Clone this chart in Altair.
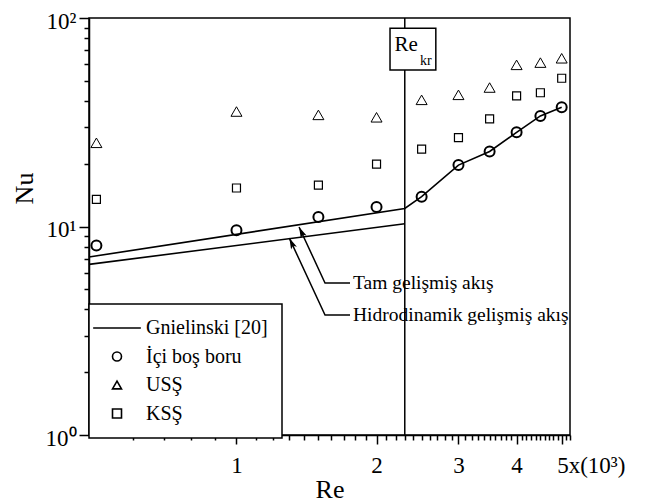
import altair as alt
import pandas as pd

FONT = "Liberation Serif"

# ---- data (Re in units of 10^3) ----
re_points = [0.5, 1.0, 1.5, 2.0, 2.5, 3.0, 3.5, 4.0, 4.5, 5.0]
nu_ici_bos = [8.1, 9.6, 11.1, 12.4, 13.9, 19.7, 22.9, 28.3, 33.9, 37.3]
nu_uss = [25.2, 35.6, 34.3, 33.4, 40.5, 42.8, 46.4, 59.6, 61.1, 64.1]
nu_kss = [13.5, 15.3, 15.8, 19.9, 23.5, 26.7, 32.8, 42.3, 43.8, 51.4]

series_names = ["Gnielinski [20]", "İçi boş boru", "USŞ", "KSŞ"]

# Gnielinski curves
gn_tam_re = [0.482, 2.3, 2.5, 3.0, 3.5, 4.0, 4.5, 5.0]
gn_tam_nu = [7.14, 12.2, 13.9, 19.7, 22.9, 28.3, 33.9, 37.3]
gn_hid_re = [0.482, 2.3]
gn_hid_nu = [6.58, 10.3]

re_kr = 2.3

# annotation anchors (data coordinates)
tam_leader_re = [1.363, 1.550, 1.754]
tam_leader_nu = [9.95, 5.36, 5.36]
hid_leader_re = [1.299, 1.550, 1.754]
hid_leader_nu = [8.80, 3.76, 3.76]
ann_text = ["Tam gelişmiş akış", "Hidrodinamik gelişmiş akış"]
ann_text_re = [1.78, 1.78]
ann_text_nu = [5.36, 3.76]

rekr_box_re = [2.138, 2.682]
rekr_box_nu = [56.3, 89.3]
rekr_main_pos = [2.185, 69.7]
rekr_sub_pos = [2.481, 59.5]

x_major = [1, 2, 3, 4, 5]
x_minor = [0.6, 0.7, 0.8, 0.9,
           1.1, 1.2, 1.3, 1.4, 1.5, 1.6, 1.7, 1.8, 1.9,
           2.1, 2.2, 2.3, 2.4, 2.5, 2.6, 2.7, 2.8, 2.9,
           3.1, 3.2, 3.3, 3.4, 3.5, 3.6, 3.7, 3.8, 3.9,
           4.1, 4.2, 4.3, 4.4, 4.5, 4.6, 4.7, 4.8, 4.9,
           5.1, 5.2]
y_major = [1, 10, 100]
y_minor = [2, 3, 4, 5, 6, 7, 8, 9, 20, 30, 40, 50, 60, 70, 80, 90]

# ---- tables ----
def series_df(values, name):
    return pd.DataFrame({"re": re_points, "nu": values, "series": [name] * len(values)})

pts_bos = series_df(nu_ici_bos, series_names[1])
pts_uss = series_df(nu_uss, series_names[2])
pts_kss = series_df(nu_kss, series_names[3])
pts_all = pd.concat([pts_bos, pts_uss, pts_kss], ignore_index=True)

gn = pd.DataFrame({
    "re": gn_tam_re + gn_hid_re,
    "nu": gn_tam_nu + gn_hid_nu,
    "curve": ["tam"] * len(gn_tam_re) + ["hid"] * len(gn_hid_re),
    "ord": list(range(len(gn_tam_re))) + list(range(len(gn_hid_re))),
})
leaders = pd.DataFrame({
    "re": tam_leader_re + hid_leader_re,
    "nu": tam_leader_nu + hid_leader_nu,
    "id": ["tam"] * 3 + ["hid"] * 3,
    "ord": [0, 1, 2, 0, 1, 2],
})
heads = pd.DataFrame({"re": [tam_leader_re[0], hid_leader_re[0]],
                      "nu": [tam_leader_nu[0], hid_leader_nu[0]]})
texts = pd.DataFrame({"re": ann_text_re, "nu": ann_text_nu, "t": ann_text})
box = pd.DataFrame({"re": [rekr_box_re[0]], "re2": [rekr_box_re[1]],
                    "nu": [rekr_box_nu[0]], "nu2": [rekr_box_nu[1]]})
kr_line = pd.DataFrame({"re": [re_kr]})
kr_main = pd.DataFrame({"re": [rekr_main_pos[0]], "nu": [rekr_main_pos[1]], "t": ["Re"]})
kr_sub = pd.DataFrame({"re": [rekr_sub_pos[0]], "nu": [rekr_sub_pos[1]], "t": ["kr"]})

xs = alt.Scale(type="log", domain=[0.482, 5.21], nice=False)
ys = alt.Scale(type="log", domain=[1, 100], nice=False)

x_axis_main = alt.Axis(
    orient="bottom", values=x_major, grid=False,
    labelExpr="datum.value == 5 ? '5x(10³)' : '' + datum.value",
    labelAlign={"condition": {"test": "datum.value == 5", "value": "left"}, "value": "center"},
    labelOffset={"condition": {"test": "datum.value == 5", "value": -5}, "value": 0},
    tickSize=9, tickWidth=1.5, tickColor="black",
    domainColor="black", domainWidth=1.5,
    labelFont=FONT, labelFontSize=23, labelColor="black", labelPadding=10,
    title="Re", titleFont=FONT, titleFontSize=26, titleFontWeight="normal",
    titleColor="black", titleY=62, titleBaseline="alphabetic",
)
x_axis_minor = alt.Axis(
    orient="bottom", values=x_minor, grid=False, labels=False, domain=False,
    tickSize=5, tickWidth=1.5, tickColor="black", title=None,
)
y_axis_main = alt.Axis(
    orient="left", values=y_major, grid=False,
    labelExpr="datum.value == 1 ? '10⁰' : (datum.value == 10 ? '10¹' : '10²')",
    tickSize=10, tickWidth=1.5, tickColor="black",
    domainColor="black", domainWidth=1.5,
    labelFont=FONT, labelFontSize=23, labelColor="black", labelPadding=3, labelOffset=3,
    title="Nu", titleFont=FONT, titleFontSize=26, titleFontWeight="normal",
    titleColor="black", titleX=-65, titleY=170, titleAngle=270,
    titleAlign="center", titleBaseline="middle",
)
y_axis_minor = alt.Axis(
    orient="left", values=y_minor, grid=False, labels=False, domain=False,
    tickSize=5, tickWidth=1.5, tickColor="black", title=None,
)

def X(field="re:Q", axis=None):
    return alt.X(field, scale=xs, axis=axis)

def Y(field="nu:Q", axis=None):
    return alt.Y(field, scale=ys, axis=axis)

shape_enc = alt.Shape(
    "series:N",
    scale=alt.Scale(domain=series_names,
                    range=["M-5.3,0H5.3", "circle", "triangle-up", "square"]),
    legend=alt.Legend(orient="none", legendX=0, legendY=286, title=None,
                      direction="vertical", padding=14, rowPadding=8.5,
                      symbolOffset=4, labelOffset=19, labelFont=FONT,
                      labelFontSize=20, labelColor="black", symbolSize=81,
                      symbolStrokeWidth=1.6, symbolStrokeColor="black",
                      symbolFillColor="transparent",
                      strokeColor="black", fillColor="white", cornerRadius=0),
)

gn_layer = alt.Chart(gn).mark_line(color="black", strokeWidth=1.6).encode(
    x=X(axis=x_axis_main), y=Y(axis=y_axis_main), detail="curve:N", order="ord:Q"
)
minor_layer = alt.Chart(pts_all).mark_point(opacity=0).encode(
    x=X(axis=x_axis_minor), y=Y(axis=y_axis_minor)
)
kr_rule = alt.Chart(kr_line).mark_rule(color="black", strokeWidth=1.5).encode(x=X())
kr_box = alt.Chart(box).mark_rect(fill="white", stroke="black", strokeWidth=1.5).encode(
    x=X(), x2="re2:Q", y=Y(), y2="nu2:Q"
)
kr_t1 = alt.Chart(kr_main).mark_text(align="left", baseline="alphabetic", font=FONT,
                                     fontSize=21, color="black").encode(x=X(), y=Y(), text="t:N")
kr_t2 = alt.Chart(kr_sub).mark_text(align="left", baseline="alphabetic", font=FONT,
                                    fontSize=14, color="black").encode(x=X(), y=Y(), text="t:N")
lead_layer = alt.Chart(leaders).mark_line(color="black", strokeWidth=1.5).encode(
    x=X(), y=Y(), detail="id:N", order="ord:Q"
)
head_layer = alt.Chart(heads).mark_point(
    shape="M0,0L-0.32,1.1L0,0.85L0.32,1.1Z", filled=True, size=400, angle=335,
    color="black", opacity=1
).encode(x=X(), y=Y())
text_layer = alt.Chart(texts).mark_text(align="left", baseline="middle", font=FONT,
                                        fontSize=19.5, color="black").encode(
    x=X(), y=Y(), text="t:N"
)

def point_layer(df, size, sw):
    return alt.Chart(df).mark_point(filled=False, color="black", opacity=1,
                                    size=size, strokeWidth=sw).encode(
        x=X(), y=Y(), shape=shape_enc
    )

chart = alt.layer(
    gn_layer, minor_layer, kr_rule, kr_box, kr_t1, kr_t2,
    lead_layer, head_layer, text_layer,
    point_layer(pts_bos, 100, 2), point_layer(pts_uss, 121, 1),
    point_layer(pts_kss, 64, 1.2),
).resolve_axis(x="independent", y="independent").properties(
    width=481, height=417,
    autosize=alt.AutoSizeParams(type="none"),
    padding={"left": 89, "top": 18, "right": 79, "bottom": 69},
    background="white",
).configure_view(stroke="black", strokeWidth=1.5).configure_legend(strokeWidth=1.5)

chart.save("out.html", embed_options={"renderer": "svg", "actions": False})
